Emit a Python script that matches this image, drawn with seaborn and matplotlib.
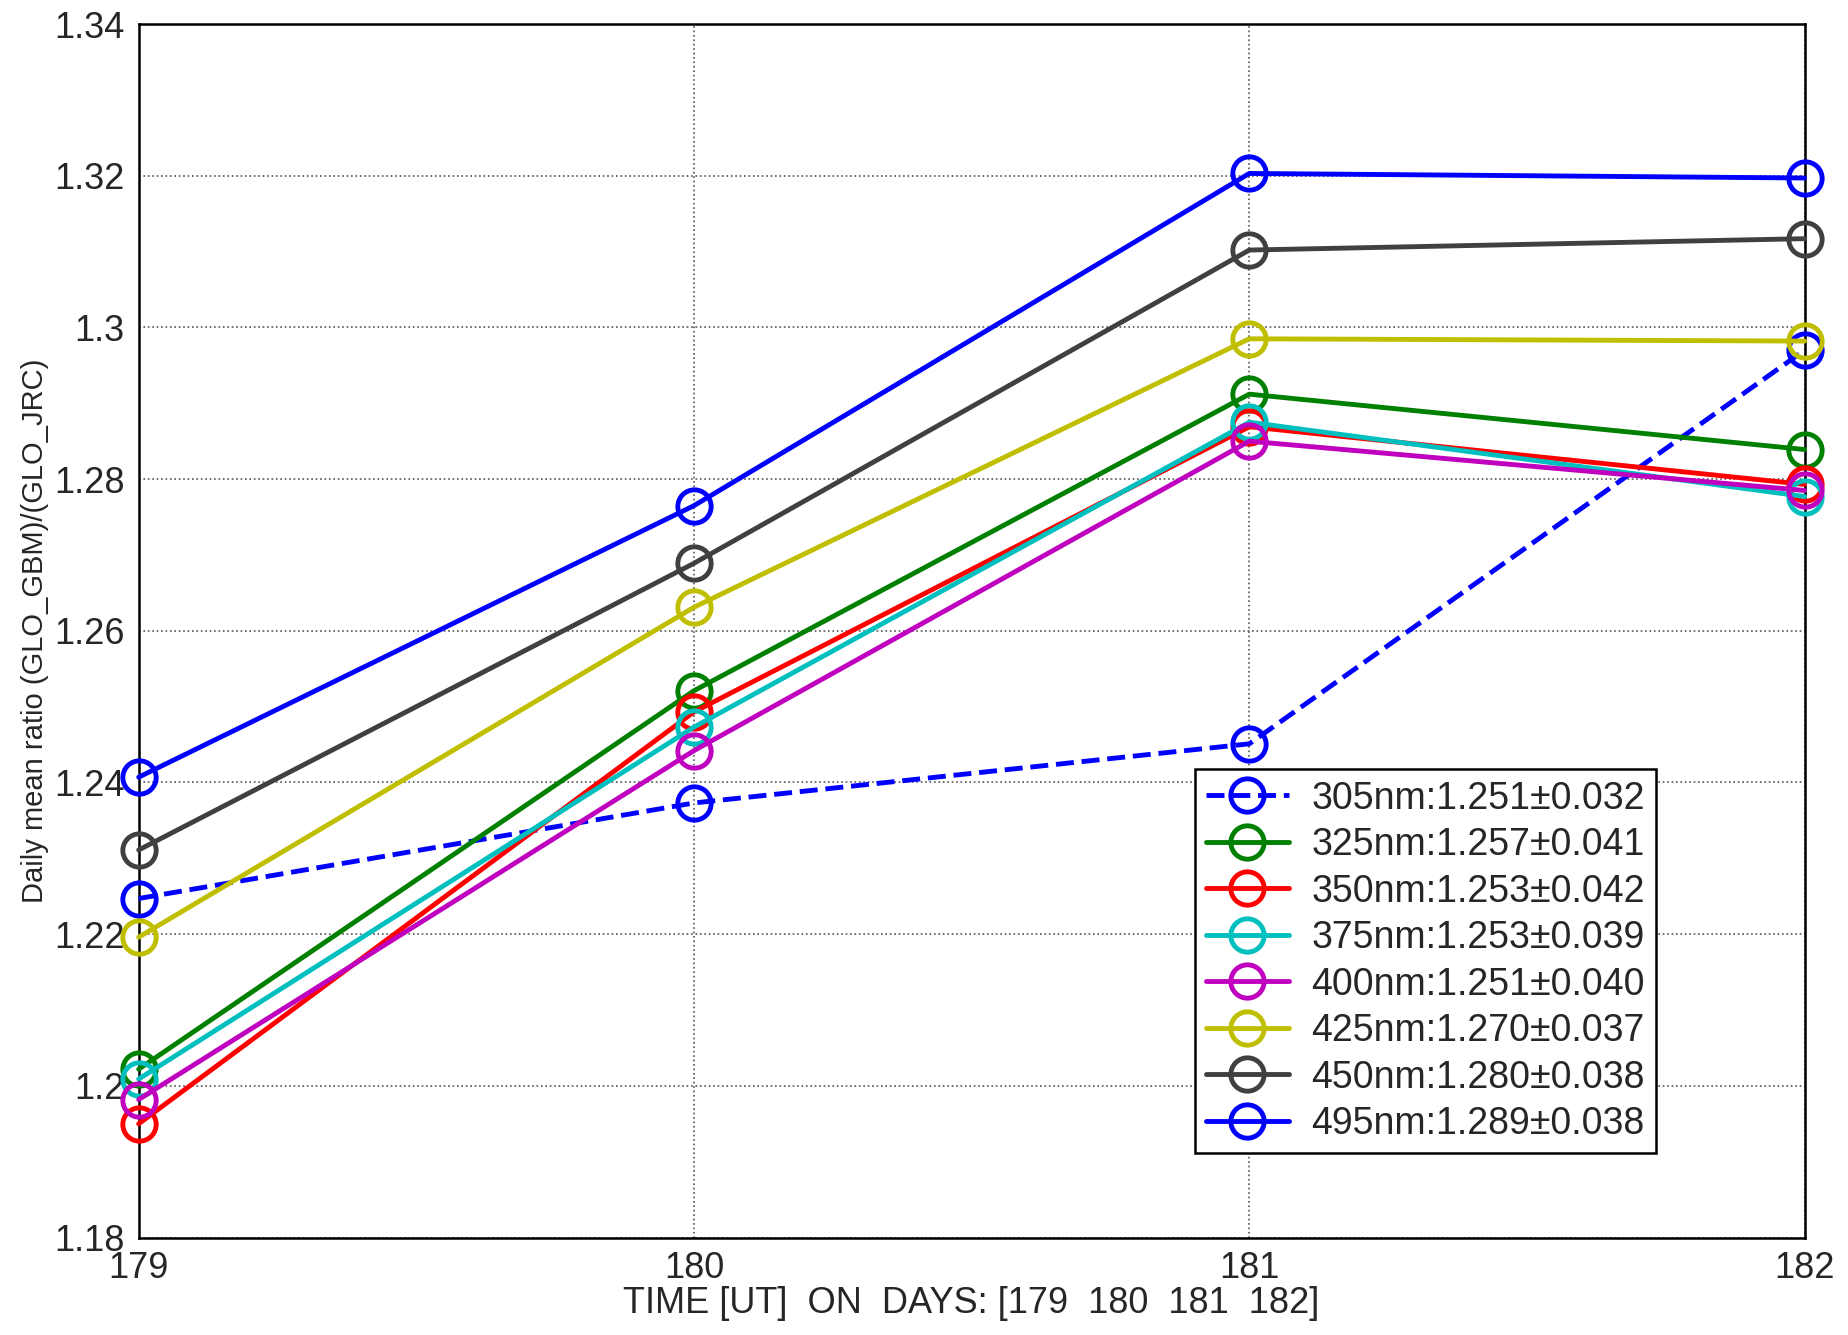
import matplotlib
matplotlib.use('Agg')
from matplotlib import pyplot as plt
import seaborn as sns
import pandas as pd

days = [179, 180, 181, 182]
labels = ['305nm:1.251±0.032', '325nm:1.257±0.041', '350nm:1.253±0.042', '375nm:1.253±0.039',
          '400nm:1.251±0.040', '425nm:1.270±0.037', '450nm:1.280±0.038', '495nm:1.289±0.038']
r305 = [1.2247, 1.2373, 1.2451, 1.2970]
r325 = [1.2022, 1.2521, 1.2912, 1.2839]
r350 = [1.1950, 1.2493, 1.2869, 1.2793]
r375 = [1.2009, 1.2473, 1.2875, 1.2777]
r400 = [1.1982, 1.2442, 1.2850, 1.2785]
r425 = [1.2196, 1.2631, 1.2985, 1.2982]
r450 = [1.2311, 1.2689, 1.3102, 1.3117]
r495 = [1.2407, 1.2765, 1.3203, 1.3197]
series = [r305, r325, r350, r375, r400, r425, r450, r495]
colors = ['#0000ff', '#008000', '#ff0000', '#00bfbf', '#bf00bf', '#bfbf00', '#404040', '#0000ff']
styles = ['--', '-', '-', '-', '-', '-', '-', '-']

sns.set_style('white')
plt.rcParams['font.family'] = ['Liberation Sans', 'DejaVu Sans']
fig = plt.figure(figsize=(18.49, 13.35), dpi=100)
ax = fig.add_axes([0.075, 0.073, 0.901, 0.909])
for lab, vals, c, ls in zip(labels, series, colors, styles):
    df = pd.DataFrame({'day': days, 'ratio': vals})
    sns.lineplot(data=df, x='day', y='ratio', ax=ax, color=c, linestyle=ls, linewidth=3.5,
                 marker='o', markersize=24, markerfacecolor='none', markeredgecolor=c,
                 markeredgewidth=3.5, label=lab, clip_on=False, zorder=3)
ax.set_xlim(179, 182)
ax.set_ylim(1.18, 1.34)
ax.set_xticks(days)
ax.set_yticks([1.18, 1.2, 1.22, 1.24, 1.26, 1.28, 1.3, 1.32, 1.34])
ax.set_yticklabels(['1.18', '1.2', '1.22', '1.24', '1.26', '1.28', '1.3', '1.32', '1.34'])
ax.tick_params(labelsize=26, direction='in', length=10, pad=10)
ax.grid(True, linestyle=':', color='#555555', linewidth=1.2)
for s in ax.spines.values():
    s.set_color('k')
    s.set_linewidth(1.8)
ax.set_xlabel('TIME [UT]  ON  DAYS: [179  180  181  182]', fontsize=26, labelpad=0)
ax.set_ylabel('Daily mean ratio (GLO_GBM)/(GLO_JRC)', fontsize=21, labelpad=4)
leg = ax.legend(loc='lower right', bbox_to_anchor=(0.922, 0.054), fontsize=27, frameon=True,
                fancybox=False, edgecolor='k', handlelength=2.2, borderpad=0.3,
                labelspacing=0.28, handletextpad=0.6, framealpha=1)
leg.get_frame().set_linewidth(1.8)
fig.savefig('out.png', dpi=100)
